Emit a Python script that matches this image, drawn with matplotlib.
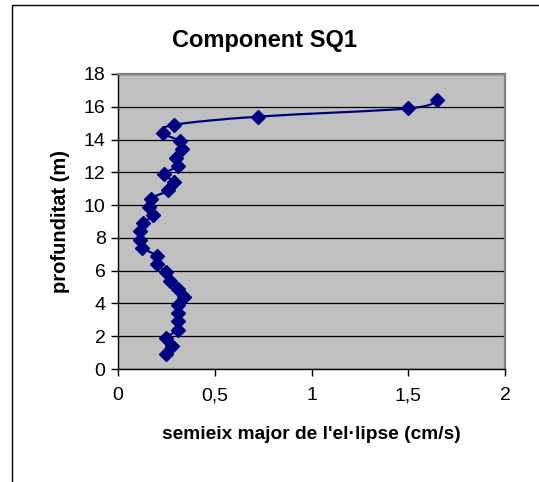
import matplotlib
matplotlib.use("Agg")
import matplotlib.pyplot as plt
from matplotlib.patches import Rectangle, PathPatch
from matplotlib.path import Path

plt.rcParams['font.family'] = ['Liberation Sans', 'DejaVu Sans']

title = "Component SQ1"
xlabel = "semieix major de l'el·lipse (cm/s)"
ylabel = "profunditat (m)"

depth = [0.9, 1.4, 1.9, 2.4, 2.9, 3.4, 3.9, 4.4, 4.9, 5.4, 5.9, 6.4, 6.9, 7.4, 7.9, 8.4,
         8.9, 9.4, 9.9, 10.4, 10.9, 11.4, 11.9, 12.4, 12.9, 13.4, 13.9, 14.4, 14.9, 15.4, 15.9, 16.4]
semiaxis = [0.25, 0.28, 0.25, 0.31, 0.31, 0.31, 0.31, 0.34, 0.31, 0.27, 0.25, 0.20, 0.20, 0.125, 0.115, 0.115,
            0.13, 0.18, 0.16, 0.17, 0.26, 0.29, 0.24, 0.31, 0.30, 0.33, 0.32, 0.235, 0.29, 0.725, 1.50, 1.65]

xticks = [0, 0.5, 1, 1.5, 2]
xticklabels = ["0", "0,5", "1", "1,5", "2"]
yticks = [0, 2, 4, 6, 8, 10, 12, 14, 16, 18]

W, H = 539, 482
fig = plt.figure(figsize=(W / 100, H / 100), dpi=100)
fig.patch.set_facecolor('white')

# chart border
fig.patches.append(Rectangle((12 / W, -0.05), 1.2, 1 - 5 / H + 0.05, transform=fig.transFigure,
                             fill=False, edgecolor='black', linewidth=1.0))

ax = fig.add_axes([118 / W, 1 - 369 / H, (505 - 118) / W, (369 - 74) / H])
ax.set_facecolor('#C0C0C0')
ax.set_xlim(0, 2)
ax.set_ylim(0, 18)
ax.set_xticks(xticks)
ax.set_xticklabels(xticklabels)
ax.set_yticks(yticks)
ax.yaxis.grid(True, color='black', linewidth=0.9)
ax.set_axisbelow(True)

# smoothed connecting line (Catmull-Rom style Bezier through the data points)
verts = [(semiaxis[0], depth[0])]
codes = [Path.MOVETO]
n = len(depth)
for i in range(n - 1):
    p0 = (semiaxis[max(i - 1, 0)], depth[max(i - 1, 0)])
    p1 = (semiaxis[i], depth[i])
    p2 = (semiaxis[i + 1], depth[i + 1])
    p3 = (semiaxis[min(i + 2, n - 1)], depth[min(i + 2, n - 1)])
    c1 = (p1[0] + (p2[0] - p0[0]) / 6, p1[1] + (p2[1] - p0[1]) / 6)
    c2 = (p2[0] - (p3[0] - p1[0]) / 6, p2[1] - (p3[1] - p1[1]) / 6)
    verts += [c1, c2, p2]
    codes += [Path.CURVE4] * 3
ax.add_patch(PathPatch(Path(verts, codes), facecolor='none', edgecolor='#000080',
                       linewidth=1.6, zorder=3))
ax.plot(semiaxis, depth, linestyle='none', marker='D', markersize=7.3,
        markerfacecolor='#000080', markeredgecolor='#000080', zorder=4)

for s in ['top', 'right']:
    ax.spines[s].set_color('#808080')
    ax.spines[s].set_linewidth(1.6)
for s in ['left', 'bottom']:
    ax.spines[s].set_color('black')
    ax.spines[s].set_linewidth(1.0)

ax.tick_params(axis='both', direction='out', length=5, width=1, labelsize=14, colors='black')
ax.tick_params(axis='x', pad=8)
ax.tick_params(axis='y', pad=4)

ax.set_xlabel(xlabel, fontsize=13.8, fontweight='bold', labelpad=16)
ax.set_ylabel(ylabel, fontsize=14.5, fontweight='bold', labelpad=10)
fig.text(265 / W, 1 - 40 / H, title, fontsize=17, fontweight='bold', ha='center', va='center')

fig.savefig("out.png", dpi=100, facecolor='white')
